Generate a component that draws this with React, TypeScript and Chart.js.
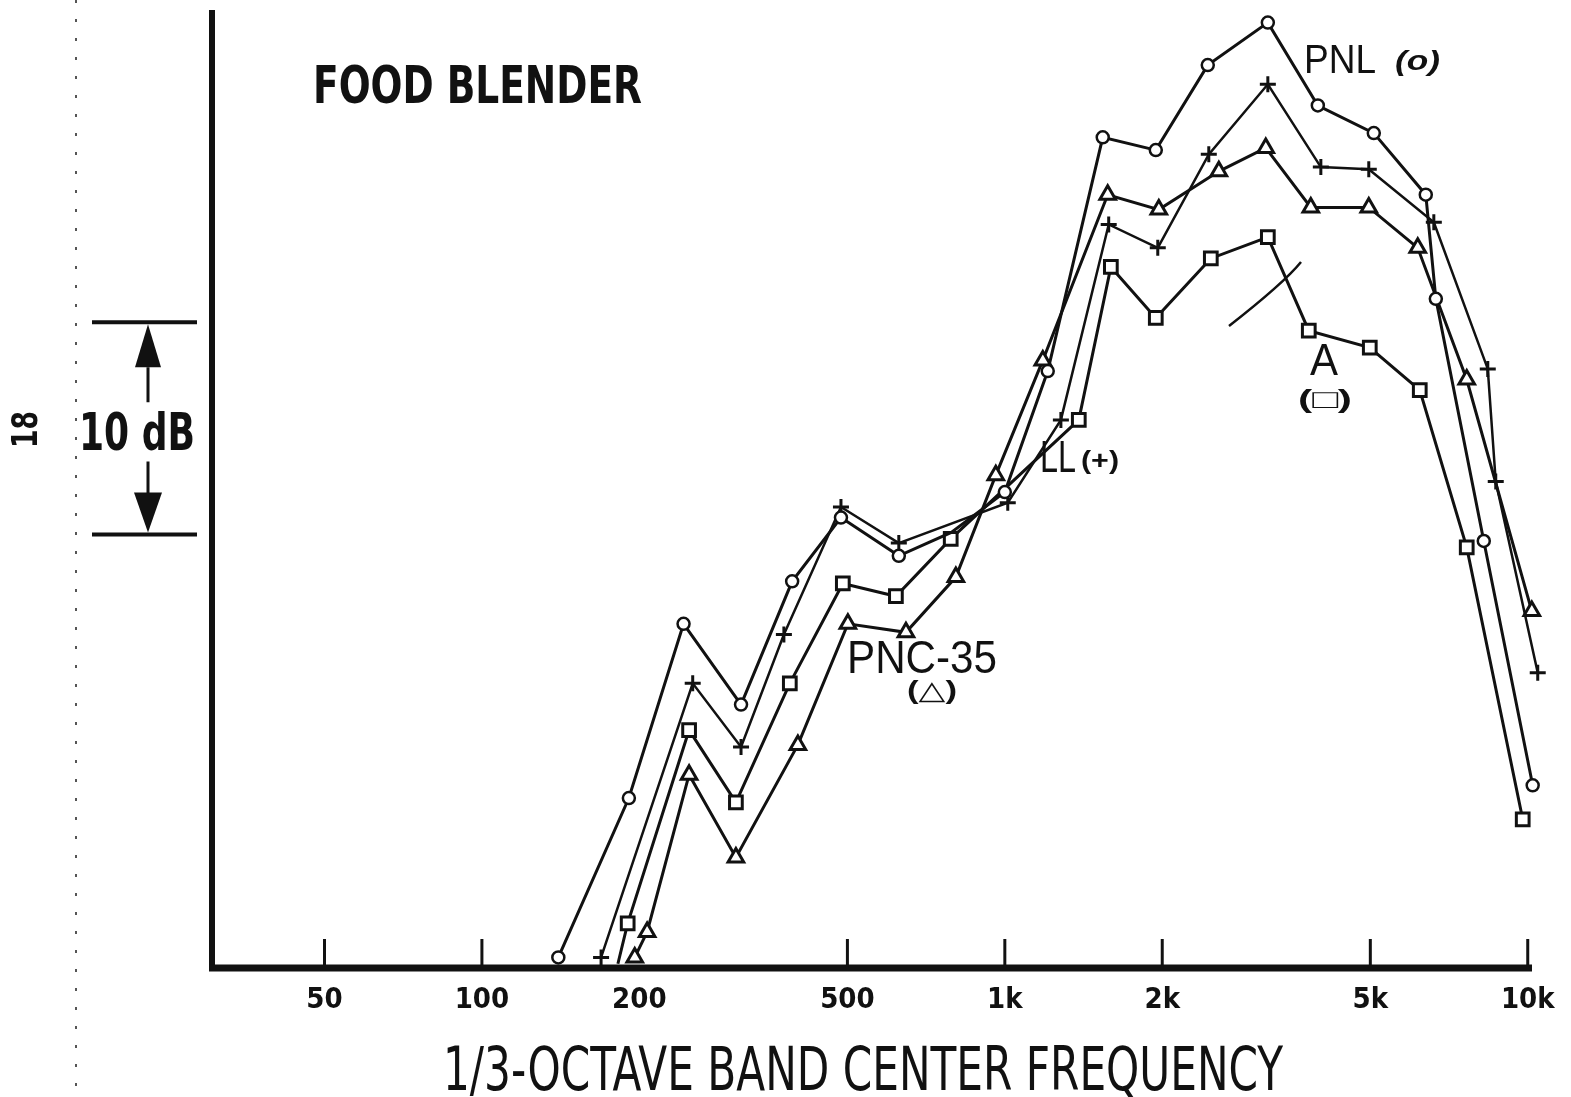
import React, { useEffect, useRef } from "react";
import { Chart, registerables } from "chart.js";

Chart.register(...registerables);

const W = 1571;
const H = 1097;

// x axis (1/3-octave band centre frequency, Hz, log scale)
const X_MIN = 30.2;
const X_MAX = 10100;
const TICK_VALUES = [50, 100, 200, 500, 1000, 2000, 5000, 10000];
const TICK_LABELS = ["50", "100", "200", "500", "1k", "2k", "5k", "10k"];
const TICK_MARK_VALUES = [50, 100, 500, 1000, 2000, 5000, 10000];

// y axis (relative level, dB above baseline)
const Y_MIN = 0;
const Y_MAX = 45;
const MARK_LOW = 20.4; // "10 dB" scale bar
const MARK_HIGH = 30.4;

// PNL (o)
const PNL_FREQ = [140, 191, 243, 313, 392, 486, 627, 790, 1000, 1208, 1539, 1944, 2444, 3184, 3968, 5077, 6383, 6672, 8240, 10220];
const PNL_LEVEL = [0.5, 8.0, 16.2, 12.4, 18.2, 21.2, 19.4, 20.5, 22.4, 28.1, 39.1, 38.5, 42.5, 44.5, 40.6, 39.3, 36.4, 31.5, 20.1, 8.6];
const PNL_MARKED = [1, 1, 1, 1, 1, 1, 1, 0, 1, 1, 1, 1, 1, 1, 1, 1, 1, 1, 1, 1];

// LL (+)
const LL_FREQ = [169, 253, 313, 378, 486, 627, 1013, 1280, 1580, 1961, 2455, 3184, 4021, 4966, 6613, 8386, 8686, 10450];
const LL_LEVEL = [0.5, 13.4, 10.4, 15.7, 21.7, 20.0, 21.9, 25.8, 35.0, 33.9, 38.3, 41.6, 37.7, 37.6, 35.1, 28.2, 22.9, 13.9];

// A (square)
const A_FREQ = [182, 190, 249, 306, 388, 490, 619, 788, 1385, 1595, 1944, 2477, 3184, 3813, 4988, 6216, 7644, 9781];
const A_LEVEL = [0.2, 2.1, 11.2, 7.8, 13.4, 18.1, 17.5, 20.2, 25.8, 33.0, 30.6, 33.4, 34.4, 30.0, 29.2, 27.2, 19.8, 7.0];
const A_MARKED = [0, 1, 1, 1, 1, 1, 1, 1, 1, 1, 1, 1, 1, 1, 1, 1, 1, 1];

// PNC-35 (triangle)
const PNC_FREQ = [196, 207, 249, 306, 402, 501, 647, 806, 961, 1182, 1573, 1970, 2566, 3155, 3847, 4966, 6161, 7644, 10180];
const PNC_LEVEL = [0.5, 1.7, 9.1, 5.2, 10.5, 16.2, 15.8, 18.4, 23.2, 28.6, 36.4, 35.7, 37.5, 38.6, 35.8, 35.8, 33.9, 27.7, 16.8];

const INK = "#111";
const NARROW = '"Liberation Sans Narrow", "DejaVu Sans Condensed", "Liberation Sans", sans-serif';
const PLAIN = '"Liberation Sans", "DejaVu Sans", sans-serif';

function pts(f: number[], l: number[]) {
  return f.map((x, i) => ({ x, y: l[i] }));
}

function fitText(ctx: CanvasRenderingContext2D, text: string, x: number, y: number, width: number, font: string) {
  ctx.save();
  ctx.font = font;
  ctx.textAlign = "left";
  ctx.textBaseline = "alphabetic";
  ctx.fillStyle = INK;
  const w = ctx.measureText(text).width || 1;
  ctx.translate(x, y);
  ctx.scale(width / w, 1);
  ctx.fillText(text, 0, 0);
  ctx.restore();
}

function arrowHead(ctx: CanvasRenderingContext2D, x: number, tipY: number, baseY: number, half: number) {
  ctx.beginPath();
  ctx.moveTo(x, tipY);
  ctx.lineTo(x - half, baseY);
  ctx.lineTo(x + half, baseY);
  ctx.closePath();
  ctx.fill();
}

const decorations = {
  id: "decorations",
  beforeDatasetsDraw(chart: any) {
    const ctx: CanvasRenderingContext2D = chart.ctx;
    const { left, right, top, bottom } = chart.chartArea;
    const xs = chart.scales.x;
    ctx.save();
    ctx.strokeStyle = INK;
    ctx.fillStyle = INK;
    // scan edge dotted line
    ctx.save();
    ctx.strokeStyle = "#555";
    ctx.lineWidth = 2;
    ctx.setLineDash([3, 16]);
    ctx.beginPath();
    ctx.moveTo(76, 0);
    ctx.lineTo(76, H);
    ctx.stroke();
    ctx.restore();
    // left axis
    ctx.lineWidth = 6;
    ctx.beginPath();
    ctx.moveTo(left + 2, top - 2);
    ctx.lineTo(left + 2, bottom + 3);
    ctx.stroke();
    // bottom axis
    ctx.lineWidth = 7;
    ctx.beginPath();
    ctx.moveTo(left - 1, bottom);
    ctx.lineTo(right + 2, bottom);
    ctx.stroke();
    // inner tick marks
    ctx.lineWidth = 3;
    TICK_MARK_VALUES.forEach((v) => {
      const px = xs.getPixelForValue(v);
      ctx.beginPath();
      ctx.moveTo(px, bottom);
      ctx.lineTo(px, bottom - 29);
      ctx.stroke();
    });
    ctx.restore();
  },
  afterDraw(chart: any) {
    const ctx: CanvasRenderingContext2D = chart.ctx;
    const ys = chart.scales.y;
    ctx.save();
    ctx.strokeStyle = INK;
    ctx.fillStyle = INK;

    // 10 dB scale bar
    const yHi = ys.getPixelForValue(MARK_HIGH);
    const yLo = ys.getPixelForValue(MARK_LOW);
    ctx.lineWidth = 4;
    ctx.beginPath();
    ctx.moveTo(92, yHi);
    ctx.lineTo(197, yHi);
    ctx.moveTo(92, yLo);
    ctx.lineTo(197, yLo);
    ctx.stroke();
    ctx.lineWidth = 3;
    ctx.beginPath();
    ctx.moveTo(148, yHi + 45);
    ctx.lineTo(148, yHi + 80);
    ctx.moveTo(148, yLo - 73);
    ctx.lineTo(148, yLo - 40);
    ctx.stroke();
    arrowHead(ctx, 148, yHi + 2, yHi + 45, 13);
    arrowHead(ctx, 148, yLo - 2, yLo - 42, 14);
    fitText(ctx, "10 dB", 79, 450, 116, `bold 52px ${NARROW}`);

    // page number, rotated
    ctx.save();
    ctx.translate(37, 448);
    ctx.rotate(-Math.PI / 2);
    fitText(ctx, "18", 0, 0, 37, `bold 36px ${NARROW}`);
    ctx.restore();

    // titles
    fitText(ctx, "FOOD BLENDER", 313, 103, 329, `bold 52px ${NARROW}`);
    fitText(ctx, "1/3-OCTAVE BAND CENTER FREQUENCY", 443, 1090, 840, `60px ${NARROW}`);

    // series labels
    fitText(ctx, "PNL", 1304, 73, 72, `40px ${PLAIN}`);
    fitText(ctx, "(o)", 1395, 70, 45, `italic bold 28px ${PLAIN}`);
    fitText(ctx, "LL", 1040, 472, 36, `44px ${PLAIN}`);
    fitText(ctx, "(+)", 1081, 469, 38, `bold 26px ${PLAIN}`);
    fitText(ctx, "PNC-35", 847, 673, 150, `46px ${PLAIN}`);
    fitText(ctx, "(△)", 907, 699, 50, `bold 26px ${PLAIN}`);
    fitText(ctx, "A", 1310, 375, 28, `44px ${PLAIN}`);
    fitText(ctx, "(□)", 1298, 408, 54, `bold 26px ${PLAIN}`);

    // hand stroke
    ctx.lineWidth = 2.5;
    ctx.beginPath();
    ctx.moveTo(1229, 326);
    ctx.quadraticCurveTo(1284, 283, 1301, 262);
    ctx.stroke();

    ctx.restore();
  },
};

export default function App() {
  const ref = useRef<HTMLCanvasElement | null>(null);

  useEffect(() => {
    const prevMargin = document.body.style.margin;
    document.body.style.margin = "0";
    document.body.style.background = "#fff";
    const canvas = ref.current!;
    const common = {
      borderColor: INK,
      pointBorderColor: INK,
      pointBackgroundColor: "#fff",
      tension: 0,
      clip: false as const,
      fill: false,
    };
    const chart = new Chart(canvas, {
      type: "line",
      data: {
        datasets: [
          {
            ...common,
            label: "PNL",
            data: pts(PNL_FREQ, PNL_LEVEL),
            borderWidth: 3,
            pointStyle: "circle",
            pointRadius: PNL_MARKED.map((m) => (m ? 6 : 0)),
            pointBorderWidth: 2.5,
          },
          {
            ...common,
            label: "LL",
            data: pts(LL_FREQ, LL_LEVEL),
            borderWidth: 2.5,
            pointStyle: "cross",
            pointRadius: 8,
            pointBorderWidth: 3,
          },
          {
            ...common,
            label: "A",
            data: pts(A_FREQ, A_LEVEL),
            borderWidth: 3,
            pointStyle: "rect",
            pointRadius: A_MARKED.map((m) => (m ? 9 : 0)),
            pointBorderWidth: 3,
          },
          {
            ...common,
            label: "PNC-35",
            data: pts(PNC_FREQ, PNC_LEVEL),
            borderWidth: 3,
            pointStyle: "triangle",
            pointRadius: 9,
            pointBorderWidth: 3,
          },
        ],
      },
      options: {
        animation: false,
        responsive: false,
        devicePixelRatio: 1,
        events: [],
        layout: { padding: { left: 210, right: 41, top: 10, bottom: 0 } },
        plugins: {
          legend: { display: false },
          tooltip: { enabled: false },
          title: { display: false },
        },
        scales: {
          x: {
            type: "logarithmic",
            min: X_MIN,
            max: X_MAX,
            position: "bottom",
            grid: { display: false, drawTicks: false },
            border: { display: false },
            afterBuildTicks: (scale: any) => {
              scale.ticks = TICK_VALUES.map((v) => ({ value: v }));
            },
            afterFit: (scale: any) => {
              scale.height = 129;
            },
            ticks: {
              autoSkip: false,
              maxRotation: 0,
              minRotation: 0,
              padding: 15,
              color: INK,
              font: { family: NARROW, size: 29, weight: "bold" },
              callback: (_v: any, i: number) => TICK_LABELS[i],
            },
          },
          y: {
            type: "linear",
            min: Y_MIN,
            max: Y_MAX,
            display: false,
          },
        },
      },
      plugins: [decorations],
    } as any);
    return () => {
      chart.destroy();
      document.body.style.margin = prevMargin;
    };
  }, []);

  return (
    <div style={{ position: "fixed", left: 0, top: 0, width: W, height: H, background: "#fff" }}>
      <canvas ref={ref} width={W} height={H} style={{ display: "block" }} />
    </div>
  );
}
